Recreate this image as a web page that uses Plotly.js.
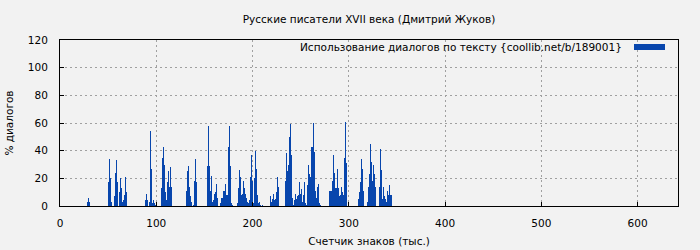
<!DOCTYPE html>
<html>
<head>
<meta charset="utf-8">
<script src="https://cdn.plot.ly/plotly-3.0.1.min.js"></script>
<style>
html,body{margin:0;padding:0;background:#f2f2f2;}
#chart{width:700px;height:250px;}
</style>
</head>
<body>
<div id="chart"></div>
<script>
// Character counter (thousands) for each bar
const charCounter = [
  28,29,30,
  50,51,52,53,56,57,58,59,61,62,63,64,65,66,67,68,69,
  88,89,90,92,93,94,95,96,97,98,99,
  105,106,107,108,109,110,111,112,113,114,115,
  131,132,133,134,135,136,138,139,140,141,
  153,154,155,156,157,158,159,160,161,162,163,166,167,168,169,170,171,172,173,174,175,176,177,178,179,
  184,185,186,187,188,189,190,191,192,193,194,195,196,197,198,199,200,201,202,203,204,205,206,207,208,210,
  218,219,220,221,222,223,224,225,226,227,
  234,235,236,237,238,239,240,241,242,243,244,245,246,247,248,249,250,251,252,253,254,255,256,257,258,259,260,261,262,263,264,265,266,267,268,269,270,
  279,280,281,282,283,284,285,286,287,288,289,290,291,292,293,294,295,296,297,
  310,311,312,313,314,315,319,320,321,322,323,324,325,326,327,331,332,333,334,335,336,337,338,339,340,341,342,343,344
];
// % of dialogue in each chunk
const dialogPct = [
  3,6,3,
  17,34,20,3,7,24,33,17,10,20,13,3,4,8,10,21,10,
  4,9,4,3,30,54,27,2,4,2,1,
  13,35,43,30,10,4,17,25,14,28,14,
  11,25,29,14,7,3,1,18,34,17,
  29,58,29,11,22,3,4,9,10,16,6,2,6,6,11,11,16,8,8,22,43,58,29,2,1,
  2,13,26,21,8,9,18,13,9,6,3,2,4,21,37,18,1,2,20,40,27,8,2,3,1,1,
  7,3,5,9,4,5,10,21,14,3,
  18,38,25,30,50,59,37,6,1,4,9,5,7,8,17,9,12,3,8,17,8,2,1,15,30,23,21,43,43,60,39,11,6,14,16,2,1,
  11,11,24,11,18,37,24,13,13,27,13,7,8,14,10,8,35,61,31,
  5,10,17,34,27,11,3,14,23,45,32,18,30,23,14,14,41,26,7,5,14,7,5,3,11,8,15,8,8
];
const xTickVals = [0,100,200,300,400,500,600];
const yTickVals = [0,20,40,60,80,100,120];

const titleText = "Русские писатели XVII века (Дмитрий Жуков)";
const xTitle = "Счетчик знаков (тыс.)";
const yTitle = "% диалогов";
const seriesName = "Использование диалогов по тексту {coollib.net/b/189001}";
const barColor = "#0846ad";

const FONT = "DejaVu Sans, sans-serif";

const trace = {
  type: "bar",
  x: charCounter,
  y: dialogPct,
  width: 1,
  offset: 0,
  name: seriesName,
  marker: {color: barColor, line: {width: 0}},
  showlegend: false,
  hoverinfo: "x+y"
};

const layout = {
  width: 700,
  height: 250,
  paper_bgcolor: "#f2f2f2",
  plot_bgcolor: "#f2f2f2",
  margin: {l: 60, r: 22, t: 40, b: 44, pad: 0},
  font: {family: FONT, size: 10, color: "#000"},
  title: {text: titleText, font: {family: FONT, size: 10.5, color: "#000"}, x: 0.5, xref: "paper", xanchor: "center", y: 1 - 19/250, yanchor: "middle"},
  bargap: 0,
  xaxis: {
    range: [0, 642],
    tickvals: xTickVals,
    ticktext: xTickVals.map(String),
    ticks: "inside",
    ticklen: 4,
    tickcolor: "#000",
    showline: true,
    linecolor: "#000",
    linewidth: 1,
    mirror: true,
    showgrid: true,
    gridcolor: "#a0a0a0",
    griddash: "2px,3px",
    gridwidth: 1,
    zeroline: false,
    tickfont: {family: FONT, size: 10.5},
    ticklabelstandoff: 7,
    title: {text: xTitle, font: {family: FONT, size: 10.5}, standoff: 10}
  },
  yaxis: {
    range: [0, 120],
    tickvals: yTickVals,
    ticktext: yTickVals.map(String),
    ticks: "inside",
    ticklen: 4,
    tickcolor: "#000",
    showline: true,
    linecolor: "#000",
    linewidth: 1,
    mirror: true,
    showgrid: true,
    gridcolor: "#a0a0a0",
    griddash: "2px,3px",
    gridwidth: 1,
    zeroline: false,
    tickfont: {family: FONT, size: 10.5},
    ticklabelstandoff: 9,
    title: {text: yTitle, font: {family: FONT, size: 10.5}, standoff: 12}
  },
  annotations: [{
    xref: "paper", yref: "paper",
    x: (624 - 60) / 618, y: (206 - 47) / 166,
    xanchor: "right", yanchor: "middle",
    text: seriesName, showarrow: false,
    font: {family: FONT, size: 10.5, color: "#000"}
  }],
  shapes: [{
    type: "rect", xref: "paper", yref: "paper",
    x0: (634 - 60) / 618, x1: (665 - 60) / 618,
    y0: (206 - 50) / 166, y1: (206 - 44) / 166,
    fillcolor: barColor, line: {width: 0}
  }]
};

Plotly.newPlot("chart", [trace], layout, {staticPlot: true, displayModeBar: false});
</script>
</body>
</html>
